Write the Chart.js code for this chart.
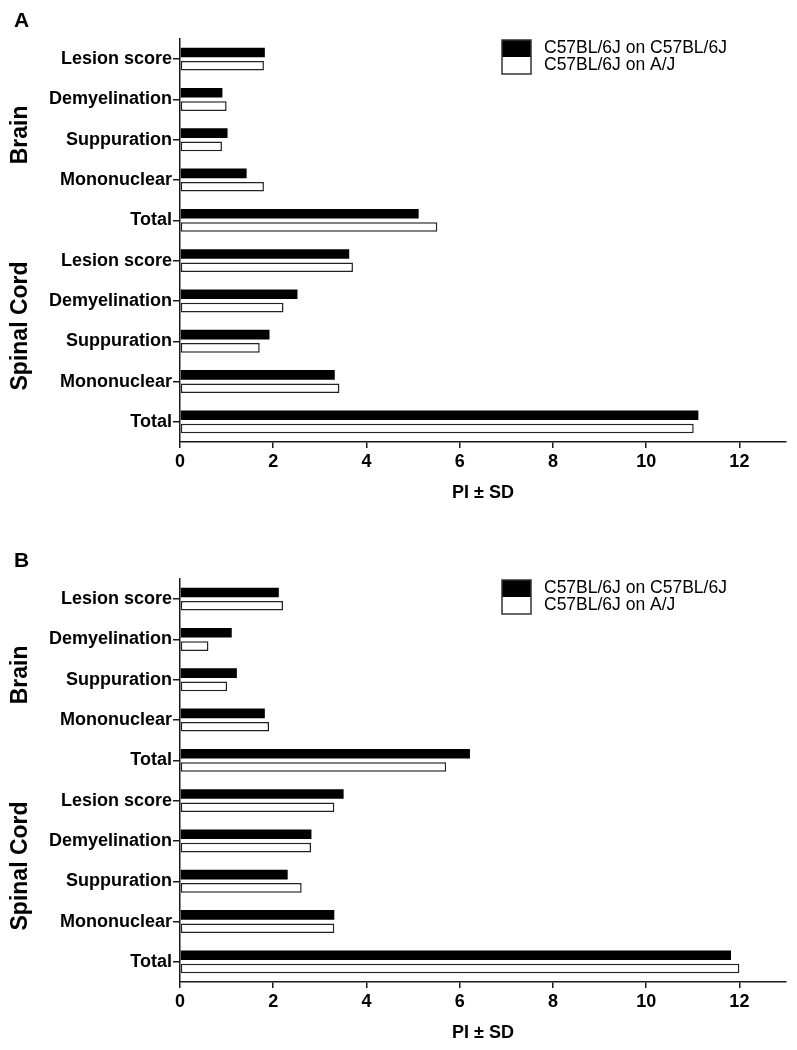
<!DOCTYPE html>
<html>
<head>
<meta charset="utf-8">
<script src="https://cdn.jsdelivr.net/npm/chart.js@4/dist/chart.umd.min.js"></script>
<style>
  body { margin: 0; background: #fff; }
  #wrap { position: relative; width: 797px; height: 1050px; }
  canvas { position: absolute; left: 0; }
  #panelA { top: 0; }
  #panelB { top: 540px; }
</style>
</head>
<body>
<div id="wrap">
  <canvas id="panelA" width="797" height="510"></canvas>
  <canvas id="panelB" width="797" height="510"></canvas>
</div>
<script>
let categories = [
     "Lesion score",
     "Demyelination",
     "Suppuration",
     "Mononuclear",
     "Total",
     "Lesion score",
     "Demyelination",
     "Suppuration",
     "Mononuclear",
     "Total",
];
let groups = ["Brain", "Spinal Cord"]; //tissue labels on the left
let seriesNames = ["C57BL/6J on C57BL/6J", "C57BL/6J on A/J"];
let xTicks = [0, 2, 4, 6, 8, 10, 12];
let xTitle = "PI \u00b1 SD";
// panel A
let aBlack = [1.82, 0.91, 1.02, 1.43, 5.12, 3.63, 2.52, 1.92, 3.32, 11.12];
let aWhite = [1.8, 1.0, 0.9, 1.8, 5.52, 3.71, 2.22, 1.71, 3.42, 11.02];
// panel B
let bBlack = [2.12, 1.11, 1.22, 1.82, 6.22, 3.51, 2.82, 2.31, 3.31, 11.82];
let bWhite = [2.21, 0.61, 1.01, 1.91, 5.71, 3.31, 2.81, 2.61, 3.31, 12.0];

const FONT = '"Liberation Sans", Arial, Helvetica, sans-serif';
const INK = "#1a1a1a";

// draws panel letter, tissue group labels and the legend box
const extras = {
     id: "extras",
     afterDraw(chart, args, opts) {
          const ctx = chart.ctx;
          const y = chart.scales.y;
          const y0 = y.getPixelForTick(0);
          const step = y.getPixelForTick(1) - y0;
          ctx.save();
          ctx.fillStyle = "#000";
          //panel letter
          ctx.font = "bold 21px " + FONT;
          ctx.textAlign = "left";
          ctx.textBaseline = "alphabetic";
          ctx.fillText(opts.letter, 14, 27);
          //group labels, rotated
          ctx.font = "bold 23px " + FONT;
          ctx.textAlign = "center";
          const at = [1.88, 6.62];
          for (let i = 0; i < groups.length; i++) {
               ctx.save();
               ctx.translate(27, y0 + step * at[i]);
               ctx.rotate(-Math.PI / 2);
               ctx.fillText(groups[i], 0, 0);
               ctx.restore();
          }
          //legend
          const lx = 502, ly = chart.chartArea.top + 1, bw = 29, bh = 17;
          const ds = chart.data.datasets;
          for (let i = 0; i < ds.length; i++) {
               ctx.fillStyle = ds[i].backgroundColor;
               ctx.fillRect(lx, ly + i * bh, bw, bh);
          }
          ctx.strokeStyle = "#333";
          ctx.lineWidth = 1.5;
          ctx.strokeRect(lx, ly, bw, bh * ds.length);
          ctx.fillStyle = "#000";
          ctx.font = "17.5px " + FONT;
          ctx.textAlign = "left";
          ctx.textBaseline = "middle";
          for (let i = 0; i < ds.length; i++) {
               ctx.fillText(ds[i].label, lx + 42, ly + 8.5 + i * bh);
          }
          ctx.restore();
     },
};

function makeChart(id, letter, black, white) {
     return new Chart(id, {
          type: "bar",
          data: {
               labels: categories,
               datasets: [
                    {
                         label: seriesNames[0],
                         data: black,
                         backgroundColor: "#000000",
                         borderColor: "#000000",
                         borderWidth: 0,
                    },
                    {
                         label: seriesNames[1],
                         data: white,
                         backgroundColor: "#ffffff",
                         borderColor: "#222222",
                         borderWidth: 1.5,
                         borderSkipped: false,
                    },
               ],
          },
          options: {
               indexAxis: "y",
               responsive: false,
               animation: false,
               categoryPercentage: 0.66,
               barPercentage: 0.72,
               layout: { padding: { top: 39, right: 11, bottom: 6, left: 0 } },
               plugins: {
                    legend: { display: false },
                    tooltip: { enabled: false },
                    extras: { letter: letter },
               },
               scales: {
                    x: {
                         type: "linear",
                         min: 0,
                         max: 13,
                         afterBuildTicks: (s) => {
                              s.ticks = xTicks.map((v) => ({ value: v }));
                         },
                         afterFit: (s) => {
                              s.height = 62;
                         },
                         border: { display: true, color: INK, width: 1.5 },
                         grid: {
                              display: true,
                              drawOnChartArea: false,
                              drawTicks: true,
                              tickLength: 6,
                              color: INK,
                              lineWidth: 1.5,
                         },
                         ticks: {
                              color: "#000",
                              padding: 3,
                              maxRotation: 0,
                              font: { family: FONT, size: 18, weight: "bold" },
                         },
                         title: {
                              display: true,
                              text: xTitle,
                              color: "#000",
                              padding: { top: 0, bottom: 0 },
                              font: { family: FONT, size: 18, weight: "bold" },
                         },
                    },
                    y: {
                         type: "category",
                         afterFit: (s) => {
                              s.width = 180;
                         },
                         border: { display: true, color: INK, width: 1.5 },
                         grid: {
                              display: true,
                              offset: false,
                              drawOnChartArea: false,
                              drawTicks: true,
                              tickLength: 7,
                              color: INK,
                              lineWidth: 1.5,
                         },
                         ticks: {
                              color: "#000",
                              padding: 1,
                              autoSkip: false,
                              font: { family: FONT, size: 18, weight: "bold" },
                         },
                    },
               },
          },
          plugins: [extras],
     });
}

makeChart("panelA", "A", aBlack, aWhite);
makeChart("panelB", "B", bBlack, bWhite);
</script>
</body>
</html>
